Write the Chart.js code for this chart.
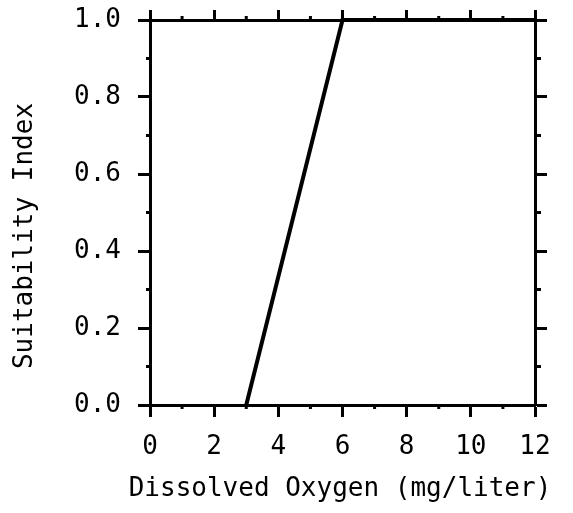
<!DOCTYPE html>
<html>
<head>
<meta charset="utf-8">
<script src="https://cdn.jsdelivr.net/npm/chart.js@4.4.0/dist/chart.umd.min.js"></script>
<style>
    html, body { margin: 0; padding: 0; background: #fff; }
    #wrap { width: 573px; height: 513px; }
</style>
</head>
<body>
<div id="wrap"><canvas id="siChart"></canvas></div>
<script>
// Suitability index curve for dissolved oxygen
const oxygenValues = [3, 6, 12];
const suitabilityValues = [0, 1, 1];

const xTickValues = [0, 2, 4, 6, 8, 10, 12];
const xMinorValues = [1, 3, 5, 7, 9, 11];
const yTickValues = [0, 0.2, 0.4, 0.6, 0.8, 1.0];
const yMinorValues = [0.1, 0.3, 0.5, 0.7, 0.9];

const xTitle = 'Dissolved Oxygen (mg/liter)';
const yTitle = 'Suitability Index';

const FONT = '"DejaVu Sans Mono", monospace';
const INK = '#000';

// force ticks to the listed values
const setTicks = (values) => (scale) => {
    scale.ticks = values.map(v => ({ value: v }));
};

// short minor tick marks on all four sides, placed through the scales
const minorTicks = {
    id: 'minorTicks',
    afterDraw(chart) {
        const { ctx, chartArea, scales } = chart;
        const len = 4;
        ctx.save();
        ctx.strokeStyle = INK;
        ctx.lineWidth = 3;
        ctx.beginPath();
        xMinorValues.forEach(v => {
            const px = scales.x.getPixelForValue(v);
            ctx.moveTo(px, chartArea.bottom);
            ctx.lineTo(px, chartArea.bottom + len);
            ctx.moveTo(px, chartArea.top);
            ctx.lineTo(px, chartArea.top - len);
        });
        yMinorValues.forEach(v => {
            const py = scales.y.getPixelForValue(v);
            ctx.moveTo(chartArea.left, py);
            ctx.lineTo(chartArea.left - len, py);
            ctx.moveTo(chartArea.right, py);
            ctx.lineTo(chartArea.right + len + 2, py);
        });
        ctx.stroke();
        ctx.restore();
    }
};

// axis titles drawn by hand so they are not squeezed to the axis width
const axisTitles = {
    id: 'axisTitles',
    afterDraw(chart) {
        const { ctx } = chart;
        ctx.save();
        ctx.font = '26px ' + FONT;
        ctx.fillStyle = INK;
        ctx.textAlign = 'center';
        ctx.textBaseline = 'middle';
        ctx.fillText(xTitle, 340, 489);
        ctx.translate(25, 236);
        ctx.rotate(-Math.PI / 2);
        ctx.fillText(yTitle, 0, 0);
        ctx.restore();
    }
};

const axisBase = {
    type: 'linear',
    border: { display: true, color: INK, width: 3 },
    grid: {
        drawOnChartArea: false,
        color: INK,
        tickColor: INK,
        tickWidth: 3,
        tickLength: 12
    }
};

new Chart(document.getElementById('siChart'), {
    type: 'line',
    data: {
        datasets: [{
            data: oxygenValues.map((x, i) => ({ x: x, y: suitabilityValues[i] })),
            borderColor: INK,
            borderWidth: 4,
            pointRadius: 0,
            tension: 0,
            fill: false,
            clip: false
        }]
    },
    options: {
        responsive: true,
        maintainAspectRatio: false,
        animation: false,
        layout: { padding: { top: 20, right: 38, left: 0, bottom: 0 } },
        plugins: {
            legend: { display: false },
            tooltip: { enabled: false }
        },
        scales: {
            x: {
                ...axisBase,
                position: 'bottom',
                min: 0,
                max: 12,
                afterBuildTicks: setTicks(xTickValues),
                afterFit: (scale) => {
                    scale.height = 108;
                    scale.paddingLeft = 0;
                    scale.paddingRight = 0;
                },
                ticks: {
                    color: INK,
                    padding: 15,
                    maxRotation: 0,
                    autoSkip: false,
                    font: { family: FONT, size: 26 }
                }
            },
            x2: {
                ...axisBase,
                position: 'top',
                min: 0,
                max: 12,
                afterBuildTicks: setTicks(xTickValues),
                afterFit: (scale) => { scale.height = 0; },
                grid: { ...axisBase.grid, tickLength: 10 },
                ticks: { display: false }
            },
            y: {
                ...axisBase,
                position: 'left',
                min: 0,
                max: 1,
                afterBuildTicks: setTicks(yTickValues),
                afterFit: (scale) => {
                    scale.width = 150;
                    scale.paddingTop = 0;
                    scale.paddingBottom = 0;
                },
                ticks: {
                    color: INK,
                    padding: 17,
                    autoSkip: false,
                    font: { family: FONT, size: 26 },
                    callback: (value) => Number(value).toFixed(1)
                }
            },
            y2: {
                ...axisBase,
                position: 'right',
                min: 0,
                max: 1,
                afterBuildTicks: setTicks(yTickValues),
                afterFit: (scale) => { scale.width = 0; },
                ticks: { display: false }
            }
        }
    },
    plugins: [minorTicks, axisTitles]
});
</script>
</body>
</html>
